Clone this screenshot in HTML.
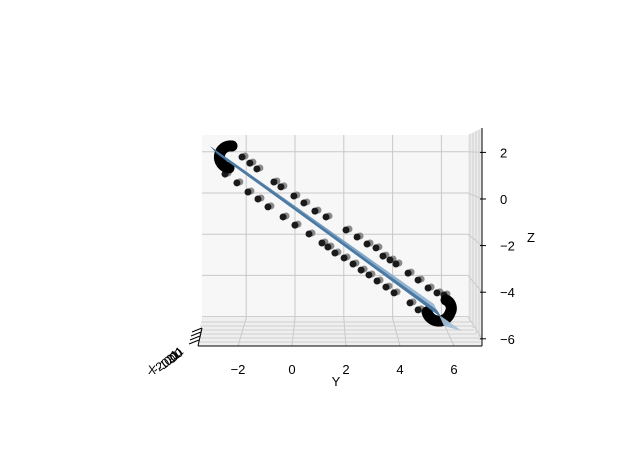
<!DOCTYPE html>
<html><head><meta charset="utf-8"><style>
body{margin:0;background:#fff}
svg{display:block;font-family:"Liberation Sans","DejaVu Sans",sans-serif}
</style></head><body>
<svg id="chart" width="640" height="476" viewBox="0 0 640 476">
<defs>
<linearGradient id="ag" x1="0" y1="0" x2="1" y2="1">
<stop offset="0" stop-color="#3a6890"/><stop offset="0.6" stop-color="#7ea5c6"/><stop offset="1" stop-color="#a8c2d8"/>
</linearGradient>
</defs>
<g>
<rect x="202" y="135" width="266" height="183" fill="#f7f7f7"/>
<polygon points="202,318 468,318 482,346 198,346" fill="#efefef"/>
<polygon points="468,135 482,128 482,346 468,318" fill="#ececec"/>
</g>
<g id="grid" stroke="#c8c8c8" stroke-width="1"></g>
<g stroke="#cfcfcf" stroke-width="1">
<line x1="201" y1="322" x2="470" y2="322"/><line x1="200" y1="326" x2="472" y2="326"/>
<line x1="200" y1="330" x2="474" y2="330"/><line x1="199" y1="334" x2="476" y2="334"/>
<line x1="199" y1="338" x2="478" y2="338"/><line x1="198" y1="342" x2="480" y2="342"/>
<line x1="470" y1="134" x2="470" y2="322"/><line x1="473" y1="133" x2="473" y2="328"/>
<line x1="476" y1="131" x2="476" y2="334"/><line x1="479" y1="130" x2="479" y2="340"/>
</g>
<g stroke="#000" stroke-width="1">
<line x1="198" y1="346" x2="482" y2="346"/>
<line x1="482" y1="128" x2="482" y2="346"/>
<line x1="202" y1="328" x2="198" y2="346"/>
</g>
<g stroke="#000" stroke-width="1">
<line x1="192" y1="332" x2="202" y2="328"/><line x1="191" y1="336" x2="201" y2="332"/>
<line x1="190" y1="340" x2="200" y2="336"/><line x1="189" y1="344" x2="199" y2="340"/>
</g>
<g id="ticks"></g>
<g font-size="12" fill="#000">
<text x="148" y="374">X</text>
<text x="156" y="374" transform="rotate(-35 156 374)">-2.000</text>
<text x="160" y="372" transform="rotate(-35 160 372)">-1.0</text>
<text x="165" y="368" transform="rotate(-35 165 368)">0.0</text>
<text x="170" y="364" transform="rotate(-35 170 364)">21</text>
<text x="174" y="360" transform="rotate(-35 174 360)">11</text>
</g>
<text x="336" y="386" font-size="13" text-anchor="middle">Y</text>
<text x="531" y="242" font-size="13" text-anchor="middle">Z</text>
<g id="marks"></g>
<g fill="none" stroke="#000" stroke-width="11" stroke-linecap="round">
<path d="M232,146 A11,11 0 1,0 229,168"/>
<path d="M427,312 A12,12 0 0,0 450,313 A9,9 0 0,0 446,300"/>
</g>
<g>
<polygon points="210,146 217,154 438,314 462,331 444,326 434,304" fill="url(#ag)" opacity="0.95"/>
<polygon points="211,147 217,153 442,318 437,310" fill="#4a79a3"/>
</g>
</svg>
<script>
const yTicks=[-2,0,2,4,6];
const zTicks=[2,0,-2,-4,-6];
const upperY=[-1.85,-1.56,-1.30,-0.67,-0.41,0.07,0.44,0.85,1.26,2.0,2.41,2.78,3.11,3.37,3.63,3.85,4.30,4.67,5.04,5.37,5.63];
const upperZ=[1.80,1.54,1.29,0.73,0.52,0.13,-0.17,-0.52,-0.77,-1.33,-1.63,-1.93,-2.10,-2.45,-2.62,-2.79,-3.18,-3.48,-3.82,-4.03,-4.12];
const lowerY=[-2.48,-2.04,-1.63,-1.26,-0.89,-0.33,0.11,0.63,1.11,1.33,1.59,1.93,2.26,2.56,2.85,3.15,3.48,3.78,4.37,4.67,5.0];
const lowerZ=[1.07,0.69,0.30,0,-0.34,-0.77,-1.12,-1.50,-1.89,-2.06,-2.32,-2.53,-2.79,-3.05,-3.26,-3.52,-3.78,-4.03,-4.46,-4.76,-4.76];
const NS="http://www.w3.org/2000/svg";
const px=y=>292+y*27, pz=z=>199-z*23.3;
const gx=y=>295+y*24.4, gz=z=>193-z*20.6;
const grid=document.getElementById('grid'), ticks=document.getElementById('ticks'), marks=document.getElementById('marks');
function mk(t,a,p){const e=document.createElementNS(NS,t);for(const k in a)e.setAttribute(k,a[k]);p.appendChild(e);return e;}
yTicks.forEach(v=>{
  const l=mk('line',{x1:gx(v),y1:135,x2:gx(v),y2:318},grid);
  
  
  const f=mk('line',{x1:gx(v),y1:318,x2:px(v),y2:346},grid);
  
  
  const t=mk('text',{x:px(v),y:374,'font-size':13,'text-anchor':'middle'},ticks);
  t.textContent=v<0?'\u2212'+Math.abs(v):String(v);
  
  
});
zTicks.forEach(v=>{
  const l=mk('line',{x1:202,y1:gz(v),x2:468,y2:gz(v)},grid);
  
  
  const s=mk('line',{x1:468,y1:gz(v),x2:482,y2:pz(v),stroke:'#c8c8c8'},grid);
  
  
  const tk=mk('line',{x1:480,y1:pz(v),x2:486,y2:pz(v),stroke:'#000'},ticks);
  
  
  const t=mk('text',{x:500,y:pz(v)+5,'font-size':13},ticks);
  t.textContent=v<0?'\u2212'+Math.abs(v):String(v);
  
  
});
function pts(Y,Z,name){
  Y.forEach((y,i)=>{
    const s=mk('circle',{cx:px(y)+3,cy:pz(Z[i])-1,r:3.5,fill:'#8a8a8a'},marks);
    
    
    const c=mk('circle',{cx:px(y),cy:pz(Z[i]),r:3.5,fill:'#1a1a1a'},marks);
    
    
  });
}
pts(upperY,upperZ,'upper-strand-point');
pts(lowerY,lowerZ,'lower-strand-point');
</script>
</body></html>
